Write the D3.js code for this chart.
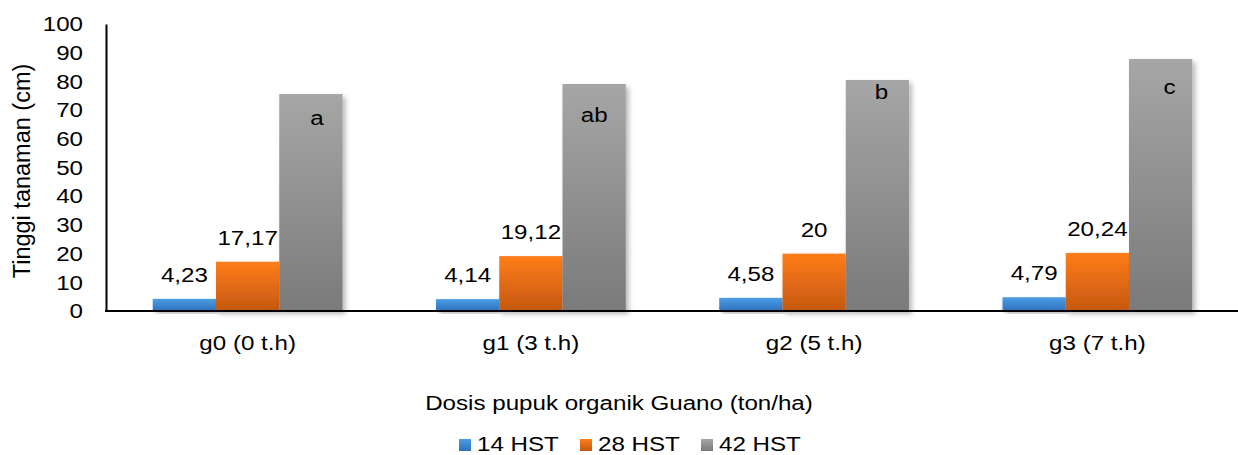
<!DOCTYPE html>
<html>
<head>
<meta charset="utf-8">
<script src="https://cdn.jsdelivr.net/npm/d3@7"></script>
<style>
  html, body { margin: 0; padding: 0; background: #fff; }
  svg { display: block; }
  text { font-family: "Liberation Sans", Arial, sans-serif; fill: #000; }
</style>
</head>
<body>
<svg id="chart" width="1238" height="455"></svg>
<script>
// Plant height by guano dose
const categories = ["g0 (0 t.h)", "g1 (3 t.h)", "g2 (5 t.h)", "g3 (7 t.h)"];
const seriesNames = ["14 HST", "28 HST", "42 HST"];
const hst14 = [4.23, 4.14, 4.58, 4.79];
const hst28 = [17.17, 19.12, 20, 20.24];
const hst42 = [75.6, 79.1, 80.5, 87.8];
const letters42 = ["a", "ab", "b", "c"];
const yTicks = [0, 10, 20, 30, 40, 50, 60, 70, 80, 90, 100];

// letter placement inside the 42 HST bars (px offsets from bar top / centre)
const letterDx = [6, 0, 4, 9];
const letterDy = [31, 38, 19, 35];

const svg = d3.select("#chart");
const W = 1238;
const plotLeft = 106, plotRight = 1239, plotTop = 24, plotBottom = 311;
const fontSize = 21;
const SX = 1.15; // glyphs are drawn slightly wide

const colors = [
  { top: "#4b9de6", bottom: "#2e72bb" },
  { top: "#ff7d1a", bottom: "#c4580f" },
  { top: "#a6a6a6", bottom: "#7a7a7a" }
];

const defs = svg.append("defs");
colors.forEach((c, i) => {
  const g = defs.append("linearGradient")
    .attr("id", "grad" + i).attr("x1", 0).attr("y1", 0).attr("x2", 0).attr("y2", 1);
  g.append("stop").attr("offset", "0%").attr("stop-color", c.top);
  g.append("stop").attr("offset", "100%").attr("stop-color", c.bottom);
});
const f = defs.append("filter").attr("id", "shadow")
  .attr("x", "-20%").attr("y", "-10%").attr("width", "150%").attr("height", "130%");
f.append("feDropShadow").attr("dx", 3).attr("dy", 3).attr("stdDeviation", 2.5)
  .attr("flood-color", "#000").attr("flood-opacity", 0.28);

// text placed at (x, y) with the wide glyph style
function wideText(sel, x, y) {
  return sel.attr("x", 0).attr("y", 0)
    .attr("transform", (d, i) => {
      const xx = typeof x === "function" ? x(d, i) : x;
      const yy = typeof y === "function" ? y(d, i) : y;
      return `translate(${xx},${yy}) scale(${SX},1)`;
    })
    .attr("font-size", fontSize);
}

const x0 = d3.scaleBand().domain(categories).range([plotLeft, plotRight])
  .paddingInner(0.33).paddingOuter(0.165);
const x1 = d3.scaleBand().domain(seriesNames).range([0, x0.bandwidth()]).padding(0);
const y = d3.scaleLinear().domain([0, 100]).range([plotBottom, plotTop]);

const series = [hst14, hst28, hst42];
const rows = categories.map((c, i) => ({
  cat: c,
  vals: seriesNames.map((s, k) => ({ key: s, k, v: series[k][i] }))
}));

// bars
const groups = svg.append("g").selectAll("g").data(rows).join("g")
  .attr("transform", d => `translate(${x0(d.cat)},0)`);
groups.selectAll("rect").data(d => d.vals).join("rect")
  .attr("x", d => x1(d.key))
  .attr("y", d => y(d.v))
  .attr("width", x1.bandwidth())
  .attr("height", d => y(0) - y(d.v))
  .attr("fill", d => `url(#grad${d.k})`)
  .attr("filter", "url(#shadow)");

// value labels for 14 and 28 HST
wideText(
  groups.selectAll("text.val").data(d => d.vals.filter(v => v.k < 2)).join("text")
    .attr("class", "val").attr("text-anchor", "middle")
    .text(d => String(d.v).replace(".", ",")),
  d => x1(d.key) + x1.bandwidth() / 2,
  d => y(d.v) - 17
);

// significance letters in the 42 HST bars
wideText(
  groups.append("text").attr("text-anchor", "middle").text((d, i) => letters42[i]),
  (d, i) => x1(seriesNames[2]) + x1.bandwidth() / 2 + letterDx[i],
  (d, i) => y(hst42[i]) + letterDy[i]
);

// y axis
const yAxis = d3.axisLeft(y).tickValues(yTicks).tickSize(0).tickPadding(20);
const gy = svg.append("g").attr("transform", `translate(${plotLeft},0)`).call(yAxis);
gy.select(".domain").attr("stroke", "#000").attr("stroke-width", 2);
gy.selectAll("text").attr("font-size", fontSize)
  .attr("font-family", '"Liberation Sans", Arial, sans-serif').attr("fill", "#000")
  .attr("transform", `scale(${SX},1)`);

// x axis
const xAxis = d3.axisBottom(x0).tickSize(0).tickPadding(24);
const gx = svg.append("g").attr("transform", `translate(0,${plotBottom})`).call(xAxis);
gx.select(".domain").attr("stroke", "#000").attr("stroke-width", 2)
  .attr("d", `M${plotLeft - 1},0H${W}`);
gx.selectAll("text").attr("font-size", fontSize)
  .attr("font-family", '"Liberation Sans", Arial, sans-serif').attr("fill", "#000")
  .attr("transform", `scale(${SX},1)`);

// axis titles
svg.append("text")
  .attr("transform", `translate(30,171) rotate(-90)`)
  .attr("text-anchor", "middle").attr("font-size", 23.5)
  .text("Tinggi tanaman (cm)");
wideText(
  svg.append("text").attr("text-anchor", "middle")
    .text("Dosis pupuk organik Guano (ton/ha)"),
  619, 410
);

// legend
const legendX = [459, 580, 701];
const lg = svg.append("g").selectAll("g").data(seriesNames).join("g")
  .attr("transform", (d, i) => `translate(${legendX[i]},439)`);
lg.append("rect").attr("width", 12).attr("height", 12)
  .attr("fill", (d, i) => `url(#grad${i})`);
wideText(lg.append("text").text(d => d), 18, 11.5);
</script>
</body>
</html>
